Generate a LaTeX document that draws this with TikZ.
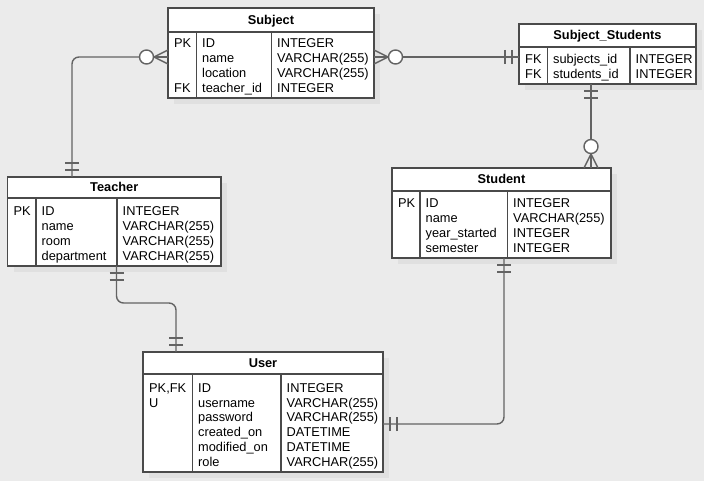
\documentclass[tikz,border=0pt]{standalone}
\usepackage{fontspec}
\setmainfont{Liberation Sans}
\usetikzlibrary{calc}
\definecolor{bg}{HTML}{EBEBEB}
\definecolor{shd}{HTML}{E0E0E0}
\definecolor{bord}{HTML}{4A4A4A}
\definecolor{lnk}{HTML}{636363}
\tikzset{
  ent/.style={draw=bord, line width=1.3pt, fill=white, inner sep=0pt, outer sep=0pt},
  sepline/.style={draw=bord, line width=1.3pt},
  conn/.style={draw=lnk, line width=1.4pt},
  ttl/.style={font=\bfseries\fontsize{12.8}{15}\selectfont, anchor=base, inner sep=0pt},
  txt/.style={font=\fontsize{12.8}{15}\selectfont, anchor=base west, inner sep=0pt},
}
% #1 name, #2 L, #3 T, #4 R, #5 H, #6 B, #7 d1, #8 d2, #9 title
\newcommand{\entity}[9]{%
  \fill[shd] (#2+6,#3+6) rectangle (#4+6,#6+6);
  \node[ent, anchor=north west, minimum width={(#4-#2)*1pt}, minimum height={(#6-#3)*1pt}] (#1) at (#2,#3) {};
  \draw[sepline] (#2,#5) -- (#4,#5);
  \draw[sepline] (#7,#5) -- (#7,#6);
  \draw[sepline] (#8,#5) -- (#8,#6);
  \node[ttl] (#1-title) at ({(#2+#4)/2},{(#3+#5)/2+4.5}) {#9};
}
% #1 prefix, #2 x, #3 first baseline, #4 list
\newcommand{\colrows}[4]{%
  \foreach \t [count=\i from 0] in {#4} {\node[txt] (#1-\i) at (#2,{#3+14.8*\i}) {\t};}
}
% one-and-only-one bars: #1 point, #2 dx, #3 dy (outward)
\newcommand{\onemark}[3]{%
  \foreach \k in {7,14}{%
    \draw[conn] ($(#1)+({\k*(#2)-7*(#3)},{\k*(#3)+7*(#2)})$) -- ($(#1)+({\k*(#2)+7*(#3)},{\k*(#3)-7*(#2)})$);}
}
% zero-or-many: crow's foot plus circle
\newcommand{\manymark}[3]{%
  \draw[conn] ($(#1)+({-7*(#3)},{7*(#2)})$) -- ($(#1)+({14*(#2)},{14*(#3)})$) -- ($(#1)+({7*(#3)},{-7*(#2)})$);
  \draw[conn] (#1) -- ($(#1)+({14*(#2)},{14*(#3)})$);
  \draw[conn, fill=white] ($(#1)+({21.5*(#2)},{21.5*(#3)})$) circle[radius=7pt];
}
\begin{document}
\begin{tikzpicture}[x=1pt, y=-1pt]
\path[use as bounding box, fill=bg] (0,0) rectangle (704,481);

% Subject
\entity{subj}{168}{8}{374}{32}{98}{196.5}{271.5}{Subject}
\node[txt] (subj-pk) at (174,48) {PK};
\node[txt] (subj-fk) at (174,92.4) {FK};
\colrows{subjn}{202}{48}{ID,name,location,teacher\_id}
\colrows{subjt}{277}{48}{INTEGER,VARCHAR(255),VARCHAR(255),INTEGER}

% Subject_Students
\entity{ss}{519}{24}{696}{47}{84}{547.5}{630}{Subject\_Students}
\colrows{ssk}{525}{63.6}{FK,FK}
\colrows{ssn}{553}{63.6}{subjects\_id,students\_id}
\colrows{sst}{635.5}{63.6}{INTEGER,INTEGER}

% Teacher
\entity{teach}{7.5}{177}{221}{198}{266}{36}{117}{Teacher}
\node[txt] (teach-pk) at (13.5,215.8) {PK};
\colrows{teachn}{41.5}{215.8}{ID,name,room,department}
\colrows{teacht}{122.5}{215.8}{INTEGER,VARCHAR(255),VARCHAR(255),VARCHAR(255)}

% Student
\entity{stud}{392}{168}{611}{191}{258}{420}{507.5}{Student}
\node[txt] (stud-pk) at (398,207.6) {PK};
\colrows{studn}{425.5}{207.6}{ID,name,year\_started,semester}
\colrows{studt}{513}{207.6}{INTEGER,VARCHAR(255),INTEGER,INTEGER}

% User
\entity{user}{143}{352}{383}{374}{472}{192.5}{281}{User}
\colrows{userk}{149}{392.2}{{PK,FK},U}
\colrows{usern}{198}{392.2}{ID,username,password,created\_on,modified\_on,role}
\colrows{usert}{286.5}{392.2}{INTEGER,VARCHAR(255),VARCHAR(255),DATETIME,DATETIME,VARCHAR(255)}

% connection points
\coordinate (a1) at ($(subj.north west)+(0,49)$);
\coordinate (b1) at ($(teach.north west)+(64.5,0)$);
\coordinate (a2) at ($(subj.north east)+(0,49)$);
\coordinate (b2) at ($(ss.north west)+(0,33)$);
\coordinate (a3) at ($(ss.south west)+(72,0)$);
\coordinate (b3) at ($(stud.north west)+(199,0)$);
\coordinate (a4) at ($(teach.south west)+(109,0)$);
\coordinate (b4) at ($(user.north west)+(33,0)$);
\coordinate (a5) at ($(stud.south west)+(112,0)$);
\coordinate (b5) at ($(user.north east)+(0,72)$);

% connectors
\draw[conn, rounded corners=7pt] (a1) -| (b1);
\draw[conn] (a2) -- (b2);
\draw[conn] (a3) -- (b3);
\draw[conn, rounded corners=7pt] (a4) -- ++(0,37) -| (b4);
\draw[conn, rounded corners=7pt] (a5) |- (b5);

% end marks
\manymark{a1}{-1}{0}
\onemark{b1}{0}{-1}
\manymark{a2}{1}{0}
\onemark{b2}{-1}{0}
\onemark{a3}{0}{1}
\manymark{b3}{0}{-1}
\onemark{a4}{0}{1}
\onemark{b4}{0}{-1}
\onemark{a5}{0}{1}
\onemark{b5}{1}{0}
\end{tikzpicture}
\end{document}
